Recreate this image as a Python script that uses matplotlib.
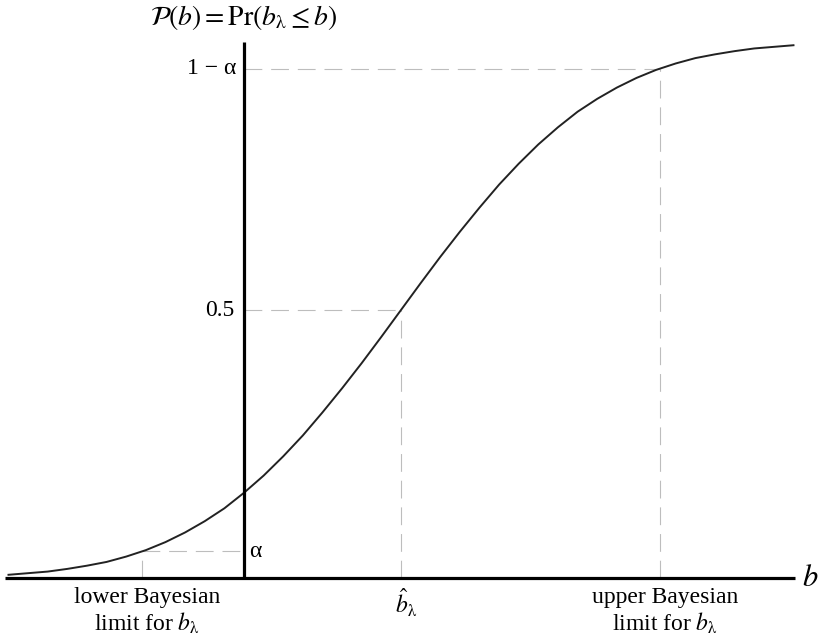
import numpy as np
import matplotlib.pyplot as plt

plt.rcParams['font.family'] = ['Liberation Serif', 'DejaVu Serif']
plt.rcParams['mathtext.fontset'] = 'stix'

# b in units of the posterior spread, P(b)
b_vals = [-2.5, -2.375, -2.25, -2.125, -2.0, -1.875, -1.75, -1.625, -1.5, -1.375,
          -1.25, -1.125, -1.0, -0.875, -0.75, -0.625, -0.5, -0.375, -0.25, -0.125,
          0.0, 0.125, 0.25, 0.375, 0.5, 0.625, 0.75, 0.875, 1.0, 1.125,
          1.25, 1.375, 1.5, 1.625, 1.75, 1.875, 2.0, 2.125, 2.25, 2.375, 2.5]
P_vals = [0.006, 0.009, 0.012, 0.017, 0.023, 0.030, 0.040, 0.052, 0.067, 0.085,
          0.106, 0.130, 0.159, 0.191, 0.227, 0.266, 0.309, 0.354, 0.401, 0.450,
          0.500, 0.550, 0.599, 0.646, 0.691, 0.734, 0.773, 0.809, 0.841, 0.870,
          0.894, 0.915, 0.933, 0.948, 0.960, 0.970, 0.977, 0.983, 0.988, 0.991, 0.994]

alpha = 0.05
b_lower, b_hat, b_upper = -1.65, 0.0, 1.65
b_origin = -1.0  # where the vertical axis stands

fig = plt.figure(figsize=(8.23, 6.42), dpi=100)
ax = fig.add_axes([0, 0, 1, 1])
ax.set_xlim(-2.554, 2.688)
ax.set_ylim(-0.1194, 1.0784)
ax.axis('off')

# dashed guide lines
dash = dict(color='#bdbdbd', lw=0.8, dashes=(16, 8), zorder=1)
ax.plot([b_lower, b_origin], [alpha, alpha], **dash)
ax.plot([b_lower, b_lower], [0, alpha], **dash)
ax.plot([b_origin, b_hat], [0.5, 0.5], **dash)
ax.plot([b_hat, b_hat], [0, 0.5], **dash)
ax.plot([b_origin, b_upper], [1 - alpha, 1 - alpha], **dash)
ax.plot([b_upper, b_upper], [0, 1 - alpha], **dash)

# the curve
ax.plot(b_vals, P_vals, color='#222222', lw=1.4, zorder=2)

# axes
ax.plot([-2.52, 2.51], [0, 0], color='black', lw=2.3, solid_capstyle='butt', zorder=3)
ax.plot([b_origin, b_origin], [0, 1.0], color='black', lw=2.3, solid_capstyle='butt', zorder=3)

# labels
fs = 17
lam = r'\mathrm{\lambda}'
ax.text(b_origin - 0.06, 0.5, '0.5', ha='right', va='center', fontsize=fs)
ax.text(b_origin - 0.05, 1 - alpha, '1 − α', ha='right', va='center', fontsize=fs)
ax.text(b_origin + 0.03, alpha, 'α', ha='left', va='center', fontsize=fs)
ax.text(b_origin, 1.045,
        r'$\mathcal{P}\left(b\right) = \mathrm{Pr}\left(b_{' + lam + r'} \leq b\right)$',
        ha='center', va='center', fontsize=20)
ax.text(2.605, 0.0, '$b$', ha='center', va='center', fontsize=22)
ax.text(b_lower + 0.03, -0.017, 'lower Bayesian\nlimit for $b_{' + lam + '}$',
        ha='center', va='top', fontsize=fs, linespacing=1.15)
ax.text(b_upper + 0.03, -0.017, 'upper Bayesian\nlimit for $b_{' + lam + '}$',
        ha='center', va='top', fontsize=fs, linespacing=1.15)
ax.text(b_hat + 0.03, -0.017, r'$\hat{b}_{' + lam + '}$', ha='center', va='top', fontsize=fs)

fig.savefig('out.png', dpi=100)
